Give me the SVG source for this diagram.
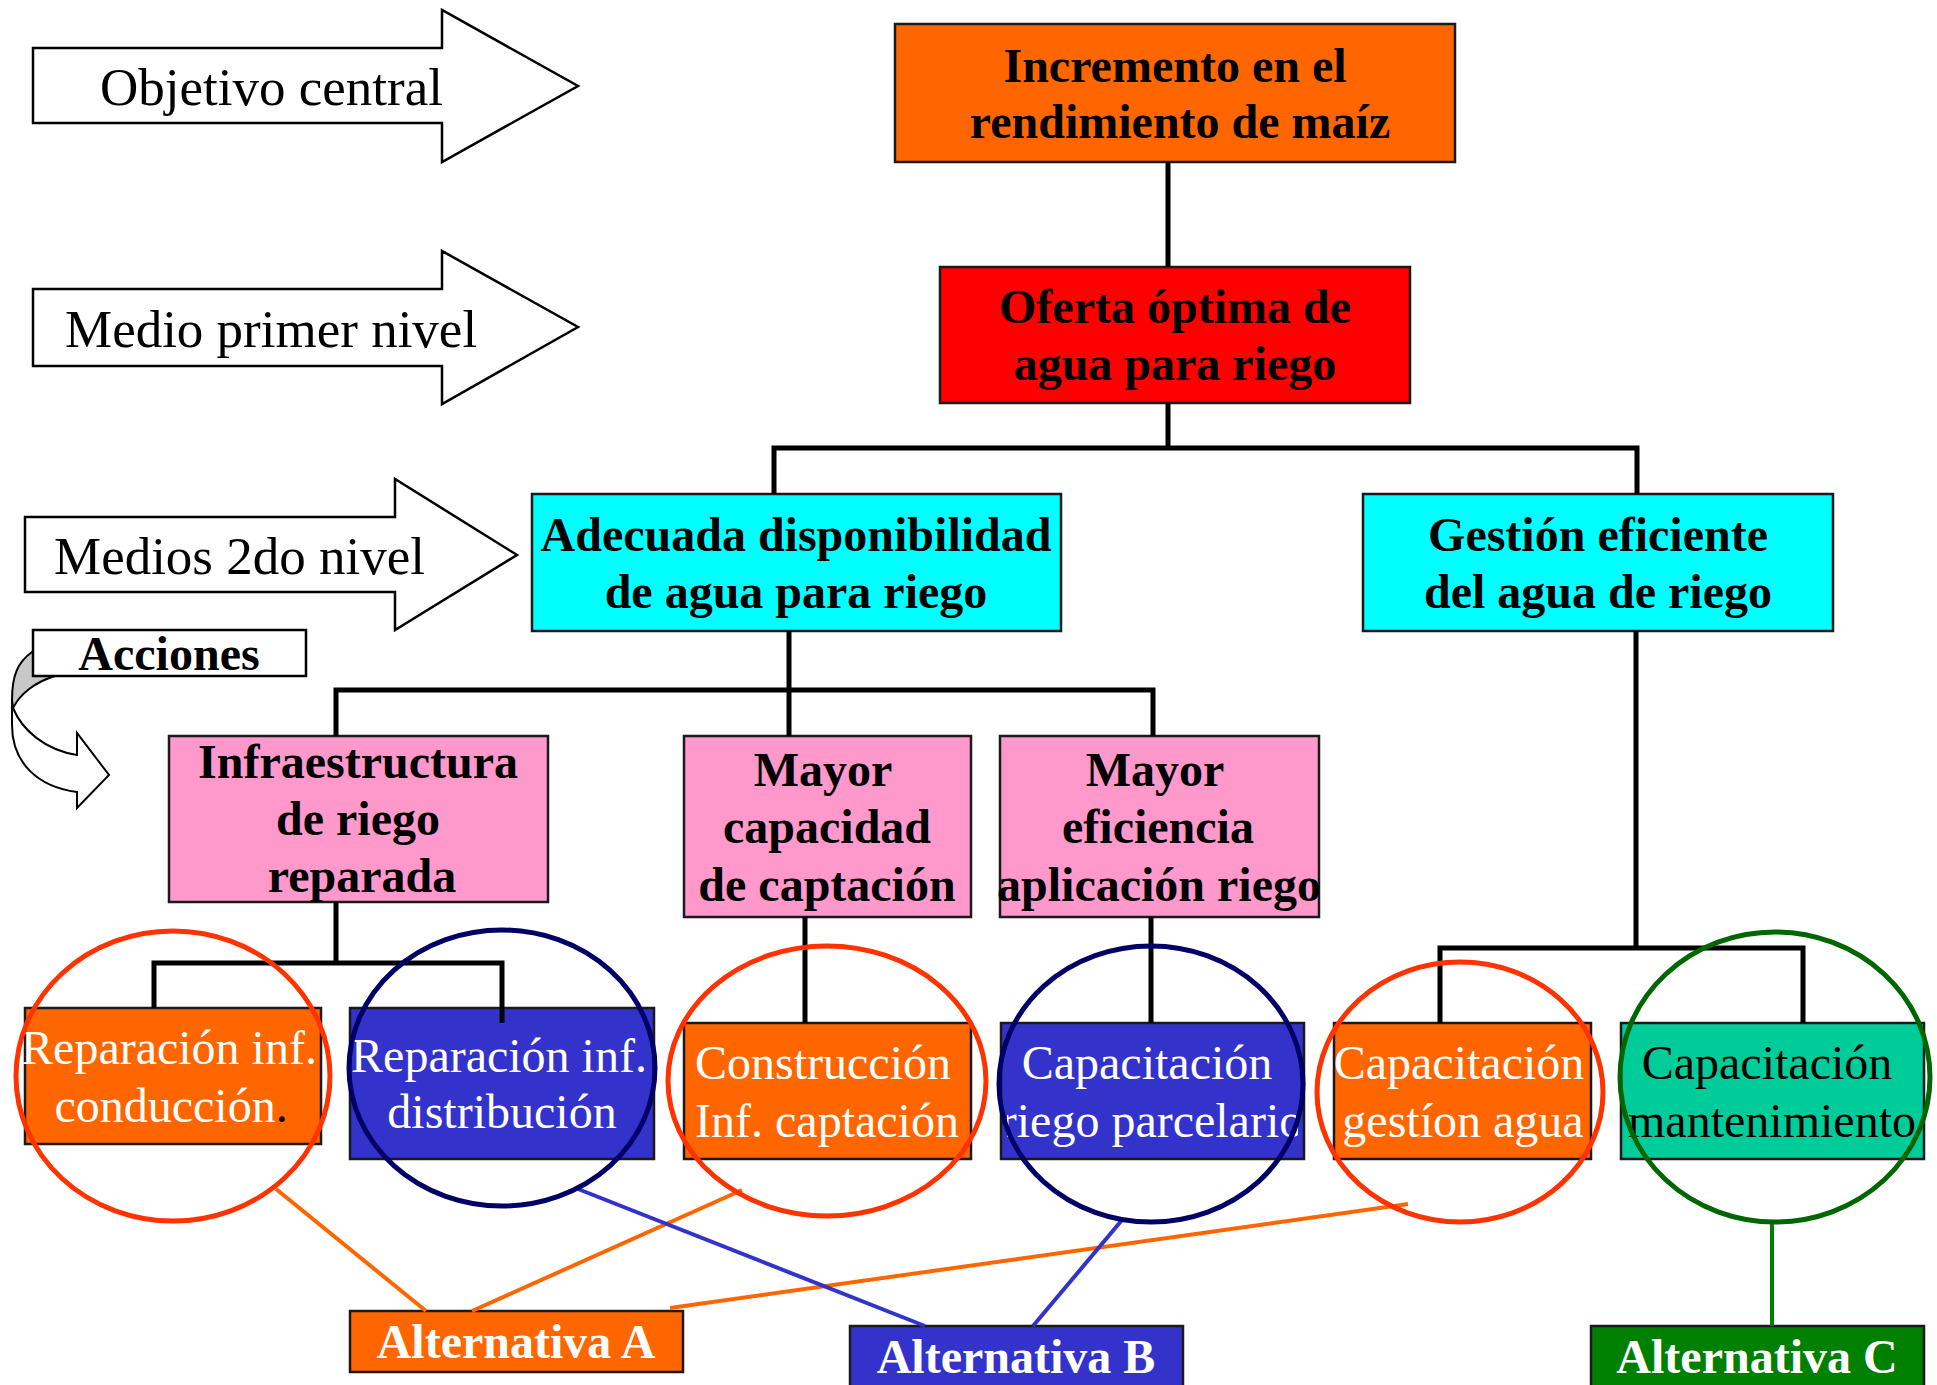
<svg xmlns="http://www.w3.org/2000/svg" width="1937" height="1385" viewBox="0 0 1937 1385">
<defs>
<style>
.t{font-family:"Liberation Serif","Times New Roman",serif;font-size:48px;text-anchor:middle}
.b{font-weight:bold}
.w{fill:#ffffff}
.k{fill:#000000}
.lab{font-family:"Liberation Serif","Times New Roman",serif;font-size:53px;fill:#000}
.box{stroke:#1a1a1a;stroke-width:2.5}
.shape{fill:#ffffff;stroke:#000;stroke-width:2.5;stroke-linejoin:miter}
.con{fill:none;stroke:#000;stroke-width:5;stroke-linejoin:miter}
.lo{fill:none;stroke:#FF6600;stroke-width:4}
.lb{fill:none;stroke:#3333CC;stroke-width:4}
.lg{fill:none;stroke:#008000;stroke-width:4}
.cr{fill:none;stroke:#FF3300;stroke-width:5}
.cn{fill:none;stroke:#000066;stroke-width:5}
.cg{fill:none;stroke:#006600;stroke-width:5}
</style>
<clipPath id="clipRP"><rect x="1007" y="1023" width="291" height="136"/></clipPath>
</defs>
<rect x="0" y="0" width="1937" height="1385" fill="#ffffff"/>

<g id="label-objetivo">
<polygon class="shape" points="33,48 442,48 442,10 578,86 442,162 442,123 33,123"/>
<text class="lab" x="100" y="105">Objetivo central</text>
</g>
<g id="label-medio">
<polygon class="shape" points="33,289 442,289 442,251 578,327 442,404 442,366 33,366"/>
<text class="lab" x="65" y="347">Medio primer nivel</text>
</g>
<g id="label-medios2">
<polygon class="shape" points="25,517 395,517 395,479 517,555 395,630 395,592 25,592"/>
<text class="lab" x="54" y="574">Medios 2do nivel</text>
</g>
<g id="label-acciones">
<path d="M13,708 C22,730 45,750 77,755 L77,733 L109,775 L77,808 L77,792 C38,787 12,763 12,725 L12,700 Z" fill="#ffffff" stroke="#000" stroke-width="2"/>
<path d="M32,652 C18,662 12,675 12,700 L13,708 C20,694 35,682 55,676 L60,660 Z" fill="#C8C8C8" stroke="#000" stroke-width="2"/>
<rect x="33" y="630" width="273" height="46" fill="#ffffff" stroke="#000" stroke-width="2.5"/>
<text class="t b k" x="169" y="670">Acciones</text>
</g>

<g id="n-incremento">
<rect class="box" x="895" y="24" width="560" height="138" fill="#FF6600"/>
<text class="t b k" x="1175" y="82">Incremento en el</text>
<text class="t b k" x="1180" y="138">rendimiento de maíz</text>
</g>
<g id="n-oferta">
<rect class="box" x="940" y="267" width="470" height="136" fill="#FF0000"/>
<text class="t b k" x="1175" y="323">Oferta óptima de</text>
<text class="t b k" x="1175" y="380">agua para riego</text>
</g>
<g id="n-adecuada">
<rect class="box" x="532" y="494" width="529" height="137" fill="#00FFFF"/>
<text class="t b k" x="796" y="551">Adecuada disponibilidad</text>
<text class="t b k" x="796" y="608">de agua para riego</text>
</g>
<g id="n-gestion">
<rect class="box" x="1363" y="494" width="470" height="137" fill="#00FFFF"/>
<text class="t b k" x="1598" y="551">Gestión eficiente</text>
<text class="t b k" x="1598" y="608">del agua de riego</text>
</g>
<g id="n-infraestructura">
<rect class="box" x="169" y="736" width="379" height="166" fill="#FF99CC"/>
<text class="t b k" x="358" y="778">Infraestructura</text>
<text class="t b k" x="358" y="835">de riego</text>
<text class="t b k" x="362" y="892">reparada</text>
</g>
<g id="n-capacidad">
<rect class="box" x="684" y="736" width="287" height="181" fill="#FF99CC"/>
<text class="t b k" x="823" y="786">Mayor</text>
<text class="t b k" x="827" y="843">capacidad</text>
<text class="t b k" x="827" y="901">de captación</text>
</g>
<g id="n-eficiencia">
<rect class="box" x="1000" y="736" width="319" height="181" fill="#FF99CC"/>
<text class="t b k" x="1155" y="786">Mayor</text>
<text class="t b k" x="1158" y="843">eficiencia</text>
<text class="t b k" x="1159" y="901">aplicación riego</text>
</g>
<g id="n-conduccion">
<rect class="box" x="25" y="1008" width="296" height="136" fill="#FF6600"/>
<text class="t w" x="169" y="1064">Reparación inf.</text>
<text class="t w" x="171" y="1122">conducción<tspan class="k">.</tspan></text>
</g>
<g id="n-distribucion">
<rect class="box" x="350" y="1008" width="304" height="151" fill="#3333CC"/>
<text class="t w" x="499" y="1072">Reparación inf.</text>
<text class="t w" x="502" y="1128">distribución</text>
</g>
<g id="n-construccion">
<rect class="box" x="684" y="1023" width="287" height="136" fill="#FF6600"/>
<text class="t w" x="823" y="1079">Construcción</text>
<text class="t w" x="827" y="1137">Inf. captación</text>
</g>
<g id="n-riego-parcelario">
<rect class="box" x="1001" y="1023" width="303" height="136" fill="#3333CC"/>
<text class="t w" x="1147" y="1079">Capacitación</text>
<text class="t w" x="1152" y="1137" clip-path="url(#clipRP)">riego parcelario</text>
</g>
<g id="n-gestion-agua">
<rect class="box" x="1334" y="1023" width="257" height="136" fill="#FF6600"/>
<text class="t w" x="1459" y="1079">Capacitación</text>
<text class="t w" x="1463" y="1137">gestíon agua</text>
</g>
<g id="n-mantenimiento">
<rect class="box" x="1621" y="1023" width="303" height="136" fill="#00CC99"/>
<text class="t k" x="1767" y="1079">Capacitación</text>
<text class="t k" x="1772" y="1137">mantenimiento</text>
</g>
<g id="n-alt-a">
<rect class="box" x="350" y="1311" width="333" height="61" fill="#FF6600"/>
<text class="t b w" x="516" y="1358">Alternativa A</text>
</g>
<g id="n-alt-b">
<rect class="box" x="850" y="1326" width="333" height="70" fill="#3333CC"/>
<text class="t b w" x="1016" y="1373">Alternativa B</text>
</g>
<g id="n-alt-c">
<rect class="box" x="1591" y="1326" width="333" height="70" fill="#008000"/>
<text class="t b w" x="1757" y="1373">Alternativa C</text>
</g>

<g id="connectors">
<path class="con" d="M1168,162 V267"/>
<path class="con" d="M1168,403 V448"/>
<path class="con" d="M774,494 V448 H1637 V494"/>
<path class="con" d="M789,631 V736"/>
<path class="con" d="M336,736 V690 H1153 V736"/>
<path class="con" d="M336,902 V963"/>
<path class="con" d="M154,1008 V963 H502 V1023"/>
<path class="con" d="M805,917 V1023"/>
<path class="con" d="M1151,917 V1023"/>
<path class="con" d="M1636,631 V948"/>
<path class="con" d="M1440,1023 V948 H1803 V1023"/>
<path class="lo" d="M276,1189 L426,1311"/>
<path class="lo" d="M742,1190 L472,1311"/>
<path class="lo" d="M1408,1204 L670,1308"/>
<path class="lb" d="M578,1189 L925,1326"/>
<path class="lb" d="M1122,1220 L1033,1326"/>
<path class="lg" d="M1772,1222 V1326"/>
</g>

<g id="highlights">
<ellipse class="cr" cx="173" cy="1076" rx="157" ry="145"/>
<ellipse class="cn" cx="502" cy="1068" rx="153" ry="138"/>
<ellipse class="cr" cx="827" cy="1081" rx="159" ry="135"/>
<ellipse class="cn" cx="1151" cy="1084" rx="152" ry="138"/>
<ellipse class="cr" cx="1460" cy="1092" rx="143" ry="130"/>
<ellipse class="cg" cx="1775" cy="1077" rx="155" ry="145"/>
</g>
</svg>
